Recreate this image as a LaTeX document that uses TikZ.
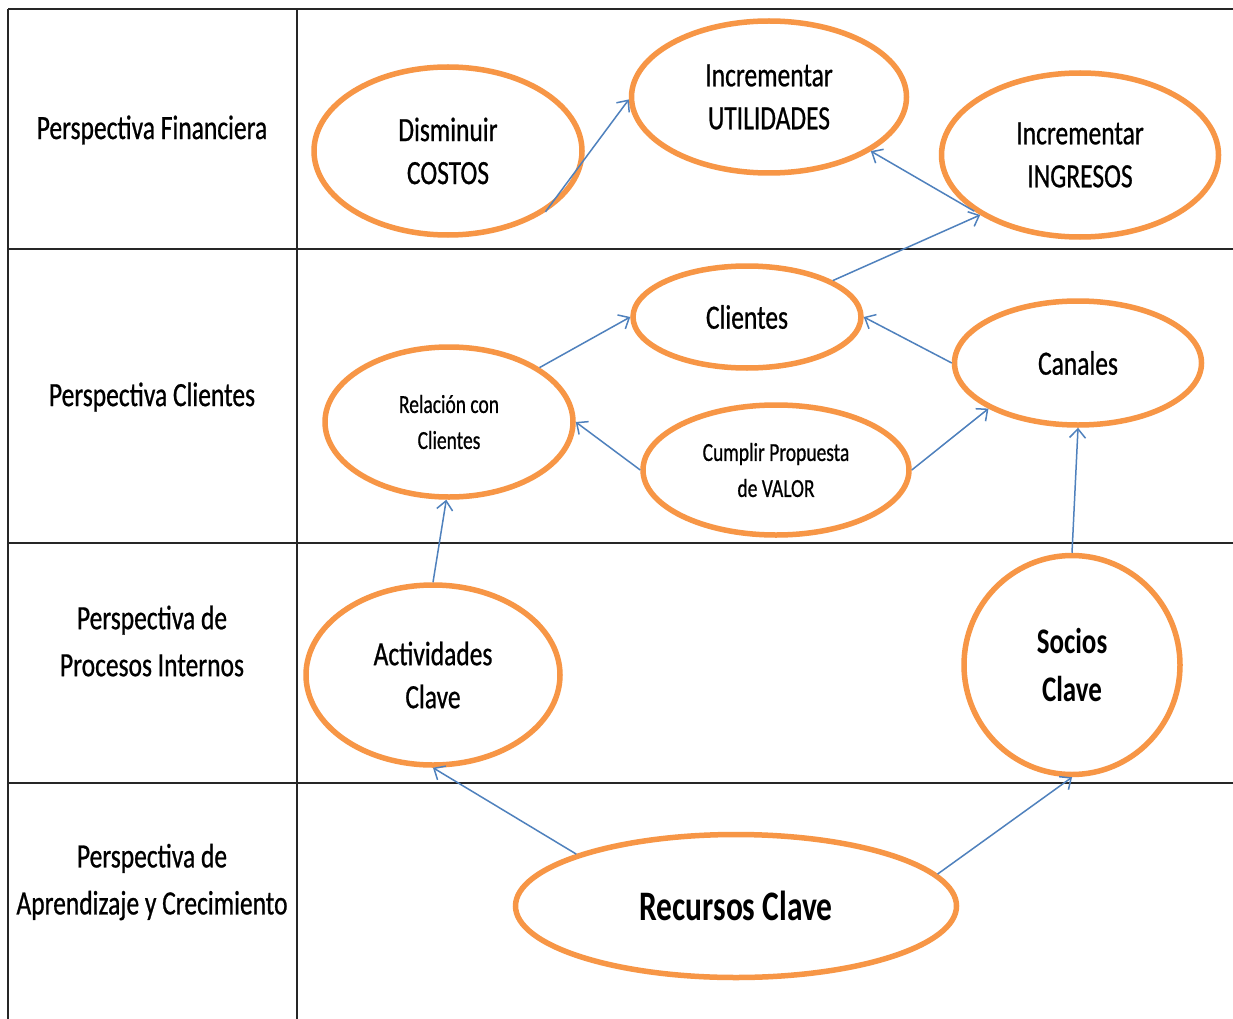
\documentclass[tikz,border=0pt]{standalone}
\usepackage{fontspec}
\setmainfont{Carlito}[FakeStretch=0.75, FakeBold=0.7]
\newfontfamily\heavyfont{Carlito}[FakeStretch=0.75, UprightFont={* Bold}]
\usetikzlibrary{shapes.geometric,arrows.meta}
\definecolor{bscorange}{HTML}{F79646}
\definecolor{bscblue}{HTML}{4F81BD}
\definecolor{gridline}{HTML}{262626}
\begin{document}
\begin{tikzpicture}[x=1pt,y=-1pt,
  goal/.style={ellipse, draw=bscorange, line width=5.5pt, fill=white, inner sep=0pt,
    align=center, font=\fontsize{34}{43}\selectfont},
  smalltext/.style={font=\fontsize{26}{36}\selectfont},
  link/.style={draw=bscblue, line width=1.5pt, -{Straight Barb[length=9pt,width=16pt]}},
  rowlabel/.style={align=center, font=\fontsize{34}{47}\selectfont},
  gridrule/.style={draw=gridline, line width=2.5pt}]
  % canvas
  \fill[white] (0,0) rectangle (1233,1019);
  \useasboundingbox (0,0) rectangle (1233,1019);

  % table rules
  \draw[gridrule] (8,9) -- (1233,9);
  \draw[gridrule] (8,249) -- (1233,249);
  \draw[gridrule] (8,543) -- (1233,543);
  \draw[gridrule] (8,783) -- (1233,783);
  \draw[gridrule] (8,9) -- (8,1019);
  \draw[gridrule] (297,9) -- (297,1019);

  % perspective labels
  \node[rowlabel] (lfin) at (152,130) {Perspectiva Financiera};
  \node[rowlabel] (lcli) at (152,397) {Perspectiva Clientes};
  \node[rowlabel] (lpro) at (152,641) {Perspectiva de\\Procesos Internos};
  \node[rowlabel] (lapr) at (152,882) {Perspectiva de\\Aprendizaje y Crecimiento};

  % objectives
  \node[goal, minimum width=268pt, minimum height=168pt] (cost) at (448,151) {Disminuir\\COSTOS};
  \node[goal, minimum width=275pt, minimum height=152pt] (util) at (769,97) {Incrementar\\UTILIDADES};
  \node[goal, minimum width=277pt, minimum height=164pt] (ingr) at (1080,155) {Incrementar\\INGRESOS};
  \node[goal, minimum width=228pt, minimum height=102pt] (cli) at (747,317) {Clientes};
  \node[goal, minimum width=247pt, minimum height=124pt] (can) at (1078,363) {Canales};
  \node[goal, smalltext, minimum width=248pt, minimum height=150pt] (rel) at (449,422) {Relación con\\Clientes};
  \node[goal, smalltext, minimum width=266pt, minimum height=130pt] (val) at (776,470) {Cumplir Propuesta\\de VALOR};
  \node[goal, minimum width=254pt, minimum height=180pt] (act) at (433,675) {Actividades\\Clave};
  \node[goal, minimum width=216pt, minimum height=219pt, font=\heavyfont\fontsize{36}{48}\selectfont] (soc) at (1072,665) {Socios\\Clave};
  \node[goal, minimum width=441pt, minimum height=143pt, font=\heavyfont\fontsize{42}{50}\selectfont] (rec) at (736,906) {Recursos Clave};

  % cause-effect links
  \draw[link] (cost.-32) -- (util.181);
  \draw[link] (ingr.208) -- (util.-28);
  \draw[link] (cli.23) -- (ingr.211);
  \draw[link] (rel.31) -- (cli.180);
  \draw[link] (can.180) -- (cli.0);
  \draw[link] (val.180) -- (rel.0);
  \draw[link] (val.0) -- (can.207);
  \draw[link] (act.90) -- (rel.268);
  \draw[link] (soc.90) -- (can.270);
  \draw[link] (rec.162) -- (act.270);
  \draw[link] (rec.9) -- (soc.270);
\end{tikzpicture}
\end{document}
